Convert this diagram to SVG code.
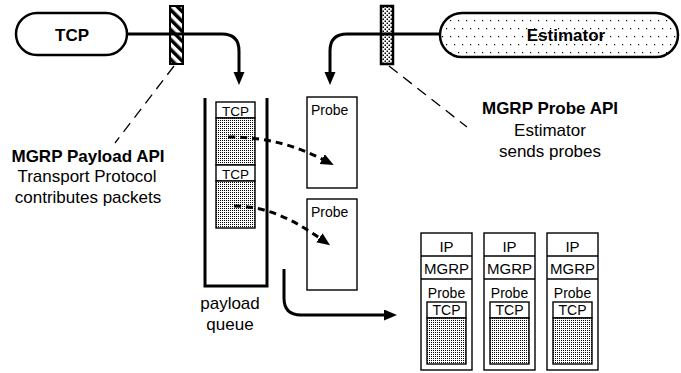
<svg xmlns="http://www.w3.org/2000/svg" width="681" height="373" viewBox="0 0 681 373">
<defs>
<pattern id="stip" patternUnits="userSpaceOnUse" width="2" height="2"><rect width="2" height="2" fill="#fff"/><rect width="1" height="1" fill="#000"/></pattern>
<pattern id="sparse" patternUnits="userSpaceOnUse" width="8" height="16"><rect width="8" height="16" fill="#fff"/><rect x="2" y="4" width="1.2" height="1.2" fill="#000"/><rect x="6" y="12" width="1.2" height="1.2" fill="#000"/></pattern>
<pattern id="dense" patternUnits="userSpaceOnUse" width="4" height="4"><rect width="4" height="4" fill="#fff"/><rect x="0.5" y="0.5" width="1.5" height="1.5" fill="#000"/><rect x="2.5" y="2.5" width="1.5" height="1.5" fill="#000"/></pattern>
<pattern id="hatch" patternUnits="userSpaceOnUse" width="7" height="7" patternTransform="rotate(-45)"><rect width="7" height="7" fill="#fff"/><rect width="3.5" height="7" fill="#000"/></pattern>
<marker id="ah" markerUnits="userSpaceOnUse" markerWidth="14" markerHeight="12" refX="2" refY="5.5" orient="auto"><path d="M0,0 L13,5.5 L0,11 z" fill="#000"/></marker>
</defs>
<style>
text{font-family:"Liberation Sans",Arial,sans-serif;fill:#000}
.b{font-weight:bold;font-size:17px}
.t17{font-size:17px}
.t15{font-size:15px}
.t14{font-size:14px}
.t13{font-size:13.5px}
.pill{stroke:#000;stroke-width:2.5}
.box{fill:#fff;stroke:#000;stroke-width:1.4}
.sh{fill:url(#stip);stroke:#000;stroke-width:1.4}
.arr{fill:none;stroke:#000;stroke-width:3}
.darr{fill:none;stroke:#000;stroke-width:3;stroke-dasharray:7 5}
.lead{fill:none;stroke:#000;stroke-width:1.3;stroke-dasharray:11 7}
</style>

<g id="tcp">
<rect class="pill" x="16" y="13" width="111" height="42" rx="21" fill="#fff"/>
<text class="b" x="72" y="41" text-anchor="middle">TCP</text>
</g>

<g id="estimator">
<rect class="pill" x="440" y="13" width="238" height="44" rx="22" fill="url(#sparse)"/>
<text class="b" x="566" y="41" text-anchor="middle">Estimator</text>
</g>

<g id="payload-api-bar">
<rect x="170" y="6" width="13" height="58" fill="url(#hatch)" stroke="#000" stroke-width="2"/>
</g>
<g id="probe-api-bar">
<rect x="381" y="6" width="12" height="58" fill="url(#dense)" stroke="#000" stroke-width="2.5"/>
</g>

<g id="payload-queue">
<path d="M205,98 V286 H267 V98" fill="none" stroke="#000" stroke-width="3"/>
<rect class="box" x="216" y="102" width="39" height="16"/>
<text class="t13" x="235.5" y="115.5" text-anchor="middle">TCP</text>
<rect class="sh" x="216" y="118" width="39" height="47"/>
<rect class="box" x="216" y="165" width="39" height="16"/>
<text class="t13" x="235.5" y="178.5" text-anchor="middle">TCP</text>
<rect class="sh" x="216" y="181" width="39" height="47"/>
<text class="t17" x="230" y="309" text-anchor="middle">payload</text>
<text class="t17" x="230" y="330" text-anchor="middle">queue</text>
</g>

<g id="probe1">
<rect class="box" x="307" y="97" width="50" height="91"/>
<text class="t14" x="311" y="115">Probe</text>
</g>
<g id="probe2">
<rect class="box" x="307" y="199" width="50" height="91"/>
<text class="t14" x="311" y="217">Probe</text>
</g>

<g id="packet1" transform="translate(421,0)">
<rect class="box" x="0" y="233" width="51" height="137"/>
<line x1="0" y1="256" x2="51" y2="256" stroke="#000" stroke-width="1.4"/>
<line x1="0" y1="279" x2="51" y2="279" stroke="#000" stroke-width="1.4"/>
<text class="t15" x="25.5" y="252" text-anchor="middle">IP</text>
<text class="t15" x="25.5" y="274" text-anchor="middle">MGRP</text>
<text class="t14" x="25.5" y="298" text-anchor="middle">Probe</text>
<rect class="box" x="6" y="302" width="39" height="16"/>
<text class="t14" x="25.5" y="315" text-anchor="middle">TCP</text>
<rect class="sh" x="6" y="318" width="39" height="46"/>
</g>
<g id="packet2" transform="translate(484,0)">
<rect class="box" x="0" y="233" width="51" height="137"/>
<line x1="0" y1="256" x2="51" y2="256" stroke="#000" stroke-width="1.4"/>
<line x1="0" y1="279" x2="51" y2="279" stroke="#000" stroke-width="1.4"/>
<text class="t15" x="25.5" y="252" text-anchor="middle">IP</text>
<text class="t15" x="25.5" y="274" text-anchor="middle">MGRP</text>
<text class="t14" x="25.5" y="298" text-anchor="middle">Probe</text>
<rect class="box" x="6" y="302" width="39" height="16"/>
<text class="t14" x="25.5" y="315" text-anchor="middle">TCP</text>
<rect class="sh" x="6" y="318" width="39" height="46"/>
</g>
<g id="packet3" transform="translate(547,0)">
<rect class="box" x="0" y="233" width="51" height="137"/>
<line x1="0" y1="256" x2="51" y2="256" stroke="#000" stroke-width="1.4"/>
<line x1="0" y1="279" x2="51" y2="279" stroke="#000" stroke-width="1.4"/>
<text class="t15" x="25.5" y="252" text-anchor="middle">IP</text>
<text class="t15" x="25.5" y="274" text-anchor="middle">MGRP</text>
<text class="t14" x="25.5" y="298" text-anchor="middle">Probe</text>
<rect class="box" x="6" y="302" width="39" height="16"/>
<text class="t14" x="25.5" y="315" text-anchor="middle">TCP</text>
<rect class="sh" x="6" y="318" width="39" height="46"/>
</g>

<g id="payload-api-label">
<text class="b" x="88" y="162" text-anchor="middle">MGRP Payload API</text>
<text class="t17" x="87" y="182" text-anchor="middle">Transport Protocol</text>
<text class="t17" x="88" y="203" text-anchor="middle">contributes packets</text>
</g>
<g id="probe-api-label">
<text class="b" x="550" y="114" text-anchor="middle">MGRP Probe API</text>
<text class="t17" x="550" y="136" text-anchor="middle">Estimator</text>
<text class="t17" x="550" y="157" text-anchor="middle">sends probes</text>
</g>

<g id="connectors">
<path class="arr" d="M127,34 H222 Q239,34 239,51 V74" marker-end="url(#ah)"/>
<path class="arr" d="M440,34 H347 Q330,34 330,51 V74" marker-end="url(#ah)"/>
<path class="arr" d="M284,269 V298 Q284,315 301,315 H386" marker-end="url(#ah)"/>
<path class="darr" d="M228,137 C265,137 295,145 324,160" marker-end="url(#ah)"/>
<path class="darr" d="M234,206 C270,206 298,223 321,239" marker-end="url(#ah)"/>
<path class="lead" d="M174,66 L115,143"/>
<path class="lead" d="M389,66 L467,127"/>
</g>
</svg>
